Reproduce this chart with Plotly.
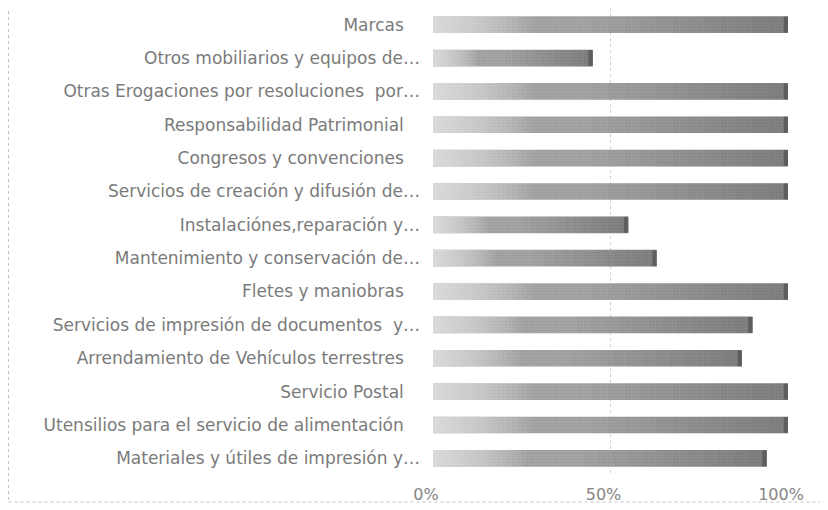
import plotly.graph_objects as go

categories = [
    "Materiales y útiles de impresión y…",
    "Utensilios para el servicio de alimentación\u00a0\u00a0\u00a0",
    "Servicio Postal\u00a0\u00a0\u00a0",
    "Arrendamiento de Vehículos terrestres\u00a0\u00a0\u00a0",
    "Servicios de impresión de documentos  y…",
    "Fletes y maniobras\u00a0\u00a0\u00a0",
    "Mantenimiento y conservación de…",
    "Instalaciónes,reparación y…",
    "Servicios de creación y difusión de…",
    "Congresos y convenciones\u00a0\u00a0\u00a0",
    "Responsabilidad Patrimonial\u00a0\u00a0\u00a0",
    "Otras Erogaciones por resoluciones  por…",
    "Otros mobiliarios y equipos de…",
    "Marcas\u00a0\u00a0\u00a0",
]
values = [0.94, 1.0, 1.0, 0.87, 0.90, 1.0, 0.63, 0.55, 1.0, 1.0, 1.0, 1.0, 0.45, 1.0]
tick_vals = [0, 0.5, 1.0]
tick_text = ["0%", "50%", "100%"]

# the page body adds an 8px offset; margins compensate for it
W, H = 828, 510
L, R, T, B = 425, 48, 0, 43
BW = 0.5

fig = go.Figure()
# main bar body
fig.add_trace(go.Bar(y=categories, x=values, orientation="h", width=BW,
                     marker=dict(color="#a6a6a6", line=dict(width=0),
                                 pattern=dict(shape=".", fgcolor="#8c8c8c", size=3, solidity=0.35)),
                     hoverinfo="skip"))
# light fade on the left part
for k in range(1, 21):
    fig.add_trace(go.Bar(y=categories, x=[v * 0.014 * k for v in values], orientation="h", width=BW,
                         marker=dict(color="rgba(255,255,255,0.05)", line=dict(width=0)),
                         hoverinfo="skip"))
# slight darkening toward the right end
for k in range(0, 12):
    f = 0.45 + 0.045 * k
    fig.add_trace(go.Bar(y=categories, x=[v * (1 - f) for v in values],
                         base=[v * f for v in values], orientation="h", width=BW,
                         marker=dict(color="rgba(0,0,0,0.015)", line=dict(width=0)),
                         hoverinfo="skip"))
# darker end cap
cap = 0.012
fig.add_trace(go.Bar(y=categories, x=[cap] * len(values), base=[v - cap for v in values],
                     orientation="h", width=BW * 0.95,
                     marker=dict(color="#5e5e5e", line=dict(width=0)), hoverinfo="skip"))

pw = W - L - R
ph = H - T - B
fig.add_shape(type="rect", xref="paper", yref="paper",
              x0=(0.5 - L) / pw, x1=(W + 20 - L) / pw,
              y0=-(494 - (H - B)) / ph, y1=1 + 20 / ph,
              line=dict(color="#c4c4c4", width=1, dash="dot"), layer="below")

fig.update_layout(
    width=W, height=H, barmode="overlay", showlegend=False,
    paper_bgcolor="white", plot_bgcolor="white",
    margin=dict(l=L, r=R, t=T, b=B),
    font=dict(family="DejaVu Sans", color="#7a7a7a", size=17),
    xaxis=dict(range=[0, 1.0], tickvals=tick_vals, ticktext=tick_text,
               showgrid=True, gridcolor="#d0d0d0", griddash="dot", gridwidth=1,
               zeroline=False, showline=False, ticks="outside", ticklen=5,
               ticklabelshift=-7,
               tickcolor="rgba(0,0,0,0)", tickfont=dict(size=16, color="#858585")),
    yaxis=dict(showgrid=False, zeroline=False, showline=False, ticks="",
               ticklabelstandoff=12, tickfont=dict(size=17, color="#7a7a7a")),
)

fig.write_html("out.html")
